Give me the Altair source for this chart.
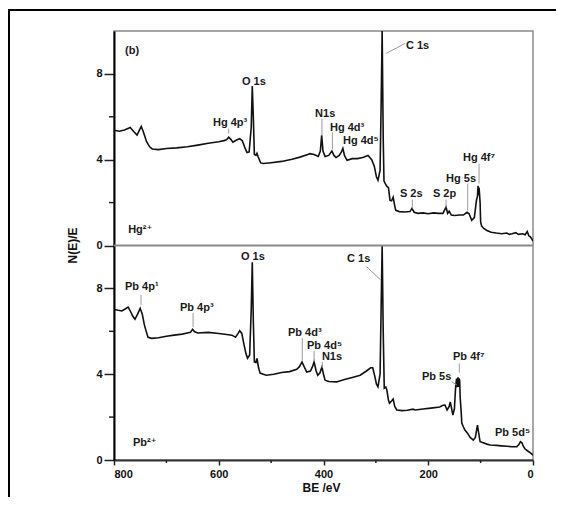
import altair as alt
import pandas as pd

# ---- Hg2+ spectrum (upper panel) ----
hg_be = [800, 790, 780, 769, 762, 756, 751, 748, 744, 738, 732, 727, 715, 700, 680, 660, 640, 620,
         600, 588, 584, 581, 577, 573, 566, 560, 555, 550, 546, 542, 538, 536, 534, 532, 529, 527,
         525, 520, 515, 500, 480, 460, 445, 430, 426, 418, 410, 406, 403.5, 401, 397, 390, 384, 380,
         376, 370, 366, 363, 360, 355, 345, 335, 325, 315, 308, 303, 299, 296, 292, 290, 288, 286,
         284.5, 282, 279, 276, 273, 270, 267, 264, 262, 255, 245, 235, 231, 227, 220, 210, 200, 190,
         180, 172, 166, 163, 160, 156, 150, 140, 133, 126, 122, 117, 112, 108, 106, 105, 104, 103,
         101, 100, 98, 94, 88, 80, 70, 60, 50, 45, 40, 33, 28, 20, 15, 11, 8, 5, 2, 0]
hg_n = [5.37, 5.33, 5.38, 5.50, 5.30, 5.15, 5.40, 5.55, 5.30, 4.85, 4.60, 4.50, 4.47, 4.52, 4.55,
        4.60, 4.68, 4.77, 4.84, 4.90, 4.96, 5.05, 4.95, 4.82, 4.92, 4.98, 4.88, 4.55, 4.33, 4.36,
        5.50, 7.43, 6.00, 4.25, 4.20, 4.30, 4.15, 3.85, 3.82, 3.86, 3.92, 4.02, 4.12, 4.24, 4.28,
        4.24, 4.15, 4.40, 5.14, 4.40, 4.15, 4.20, 4.40, 4.20, 4.10, 4.20, 4.35, 4.53, 4.20, 3.97,
        4.05, 4.05, 4.10, 4.20, 4.00, 3.70, 3.20, 3.04, 3.50, 6.50, 10.0, 5.00, 3.00, 2.88, 2.75,
        2.70, 2.10, 2.08, 2.25, 1.85, 1.64, 1.58, 1.56, 1.58, 1.73, 1.55, 1.50, 1.52, 1.48, 1.52,
        1.50, 1.50, 1.79, 1.50, 1.60, 1.42, 1.40, 1.42, 1.42, 1.55, 1.48, 1.17, 1.30, 2.10, 2.30,
        2.78, 2.35, 2.70, 2.00, 1.10, 0.90, 0.80, 0.70, 0.62, 0.58, 0.55, 0.58, 0.52, 0.55, 0.60,
        0.52, 0.55, 0.50, 0.65, 0.45, 0.40, 0.30, 0.20]

# ---- Pb2+ spectrum (lower panel) ----
pb_be = [800, 792, 785, 778, 773, 768, 764, 760, 755, 750, 746, 742, 738, 735, 728, 715, 700, 685,
         670, 660, 654, 650, 646, 640, 620, 600, 585, 575, 568, 563, 560, 556, 552, 548, 545, 541,
         538, 536, 534, 532, 529, 527, 524, 521, 515, 509, 495, 480, 465, 451, 446, 441, 437, 432,
         425, 421, 418, 414, 411, 407, 403, 400, 397, 390, 375, 360, 345, 330, 318, 310, 306, 302,
         299, 296, 292, 290, 288, 286, 284, 281, 279, 276, 274, 270, 267, 264, 260, 250, 240, 229,
         225, 210, 195, 178, 172, 168, 164, 160, 158, 155, 153, 150, 148, 146, 145, 144, 143, 142,
         141, 140, 139, 137, 136, 133, 130, 125, 120, 114, 110, 107, 106, 104, 101, 95, 88, 82, 70,
         60, 50, 40, 31, 27, 24, 21, 18, 15, 10, 5, 0]
pb_n = [7.02, 6.98, 6.95, 7.05, 7.13, 6.90, 6.70, 6.56, 6.80, 7.07, 6.80, 6.30, 5.95, 5.72, 5.67,
        5.70, 5.77, 5.82, 5.87, 5.92, 5.95, 6.09, 5.98, 5.92, 5.95, 5.90, 5.85, 5.82, 5.72, 5.90,
        6.03, 5.90, 5.40, 4.95, 4.75, 4.90, 7.00, 9.22, 6.50, 4.57, 4.55, 4.74, 4.30, 4.05, 4.00,
        3.95, 4.00, 4.08, 4.12, 4.23, 4.35, 4.57, 4.35, 4.10, 4.15, 4.35, 4.57, 4.15, 3.95, 4.05,
        4.33, 4.00, 3.72, 3.66, 3.64, 3.75, 3.85, 3.95, 4.15, 4.30, 4.30, 3.90, 3.55, 3.41, 4.00,
        7.00, 10.0, 6.00, 3.35, 3.40, 3.26, 2.80, 2.65, 2.75, 2.84, 2.50, 2.33, 2.30, 2.32, 2.37,
        2.33, 2.38, 2.42, 2.47, 2.55, 2.56, 2.33, 2.50, 2.71, 2.35, 2.09, 2.40, 3.30, 3.80, 3.40,
        3.75, 3.85, 3.40, 3.80, 3.70, 2.90, 2.20, 1.72, 1.55, 1.40, 1.25, 1.05, 0.93, 1.05, 1.50,
        1.63, 1.30, 0.85, 0.80, 0.74, 0.70, 0.68, 0.66, 0.64, 0.62, 0.62, 0.72, 0.85, 0.80, 0.62,
        0.51, 0.42, 0.33, 0.23]

# ---- peak labels ----
lab_text = ["(b)", "O 1s", "Hg 4p³", "N1s", "Hg 4d³", "Hg 4d⁵", "C 1s", "S 2s", "S 2p", "Hg 5s",
            "Hg 4f⁷", "Hg²⁺",
            "O 1s", "Pb 4p¹", "Pb 4p³", "C 1s", "Pb 4d³", "Pb 4d⁵", "N1s", "Pb 4f⁷", "Pb 5s",
            "Pb 5d⁵", "Pb²⁺"]
lab_be = [779, 555.6, 611, 416, 387.6, 362.8, 242.5, 254, 191, 166, 133.7, 773,
          557.5, 779, 674, 355, 467.8, 431.5, 403, 152.7, 212, 72.6, 763.7]
lab_n = [9.09, 7.60, 5.69, 6.15, 5.50, 4.85, 9.32, 2.38, 2.38, 3.12, 4.10, 0.70,
         9.46, 8.07, 7.09, 9.37, 5.92, 5.31, 4.80, 4.80, 3.87, 1.26, 0.79]
lab_panel = ["Hg"] * 12 + ["Pb"] * 11

# ---- leader lines ----
lead_be1 = [581, 403, 383, 280.7, 230.4, 166, 124.7, 103,
            748.4, 649, 317.5, 440.5, 418, 402.3, 140.7, 155.2]
lead_n1 = [5.45, 5.92, 5.27, 8.95, 2.14, 2.14, 2.89, 3.82,
           7.69, 6.85, 9.01, 5.69, 5.10, 4.57, 4.50, 3.65]
lead_be2 = [581, 403, 383, 244.4, 230.4, 166, 124.7, 103,
            748.4, 649, 290.8, 440.5, 418, 402.3, 140.7, 145.7]
lead_n2 = [5.22, 5.13, 4.48, 9.42, 1.72, 1.77, 1.63, 2.89,
           7.23, 6.20, 8.39, 4.63, 4.58, 4.29, 4.07, 3.50]
lead_panel = ["Hg"] * 8 + ["Pb"] * 8

x_ticks = [800, 600, 400, 200, 0]
x_minor = [700, 500, 300, 100]
y_ticks = [0, 4, 8, 10, 14, 18]
y_minor = [2, 6, 12, 16]

FONT = "Liberation Sans, Arial, DejaVu Sans"

spec = pd.concat([
    pd.DataFrame({"BE": hg_be, "N": hg_n, "panel": "Hg"}),
    pd.DataFrame({"BE": pb_be, "N": pb_n, "panel": "Pb"}),
])
labels = pd.DataFrame({"t": lab_text, "BE": lab_be, "N": lab_n, "panel": lab_panel})
leads = pd.DataFrame({"BE": lead_be1, "N": lead_n1, "BE2": lead_be2, "N2": lead_n2,
                      "panel": lead_panel})

offset = "datum.panel == 'Hg' ? 10 : 0"

xs = alt.Scale(domain=[800, 0], nice=False, zero=False)
ys = alt.Scale(domain=[0, 20], nice=False, zero=False)

x_enc = alt.X("BE:Q", scale=xs, axis=alt.Axis(
    values=x_ticks, title="BE /eV", grid=False, tickSize=5, labelPadding=3,
    domainColor="#333", domainWidth=2, tickColor="#222", tickWidth=1.5,
    titleX=207, titleY=27, titleBaseline="middle", titleAlign="center"))
y_enc = alt.Y("Y:Q", scale=ys, axis=alt.Axis(
    values=y_ticks, labelExpr="datum.value >= 10 ? datum.value - 10 : datum.value",
    title="N(E)/E", grid=False, tickSize=10, labelPadding=2,
    domainColor="#000", domainWidth=2, tickColor="#222", tickWidth=1.5,
    titleX=-42, titleY=214, titleAngle=270, titleAlign="center", titleBaseline="middle"))

line = alt.Chart(spec).transform_calculate(Y="datum.N + (" + offset + ")").mark_line(
    color="#111", strokeWidth=1.6, clip=True, interpolate="linear"
).encode(x=x_enc, y=y_enc, detail="panel:N", order="BE:Q")

leaders = alt.Chart(leads).transform_calculate(
    Y="datum.N + (" + offset + ")", Y2="datum.N2 + (" + offset + ")"
).mark_rule(color="#9a9a9a", strokeWidth=1).encode(
    x=alt.X("BE:Q", scale=xs), x2="BE2:Q", y=alt.Y("Y:Q", scale=ys), y2="Y2:Q")

texts = alt.Chart(labels).transform_calculate(Y="datum.N + (" + offset + ")").mark_text(
    align="left", baseline="middle", font=FONT, fontWeight="bold", fontSize=11, color="#1a1a1a"
).encode(x=alt.X("BE:Q", scale=xs), y=alt.Y("Y:Q", scale=ys), text="t:N")

ymin = alt.Chart(pd.DataFrame({"Y": y_minor})).mark_rule(color="#222", strokeWidth=1.5).encode(
    y=alt.Y("Y:Q", scale=ys), x=alt.value(-5), x2=alt.value(0))
xmin = alt.Chart(pd.DataFrame({"BE": x_minor})).mark_rule(color="#222", strokeWidth=1.5).encode(
    x=alt.X("BE:Q", scale=xs), y=alt.value(429), y2=alt.value(432))

sep = alt.Chart(pd.DataFrame({"Y": [10]})).mark_rule(color="#8a8a8a", strokeWidth=2).encode(
    y=alt.Y("Y:Q", scale=ys), x=alt.value(0), x2=alt.value(419))

frame_left = alt.Chart(pd.DataFrame({"a": [0]})).mark_rule(color="#000", strokeWidth=2).encode(
    x=alt.value(-105), y=alt.value(-21), y2=alt.value(470))
frame_top = alt.Chart(pd.DataFrame({"a": [0]})).mark_rule(color="#000", strokeWidth=2).encode(
    y=alt.value(-21), x=alt.value(-106), x2=alt.value(450))

chart = alt.layer(line, leaders, texts, ymin, xmin, sep, frame_left, frame_top).properties(
    width=419, height=429,
    autosize=alt.AutoSizeParams(type="none"),
    padding={"left": 106, "top": 23, "right": 23, "bottom": 37},
).configure_view(stroke="#8a8a8a", strokeWidth=1.5).configure_axis(
    labelFont=FONT, labelFontWeight="bold", labelFontSize=11, labelColor="#111",
    titleFont=FONT, titleFontWeight="bold", titleFontSize=12, titleColor="#111"
)

chart.save("out.html", embed_options={"renderer": "svg", "actions": False})
